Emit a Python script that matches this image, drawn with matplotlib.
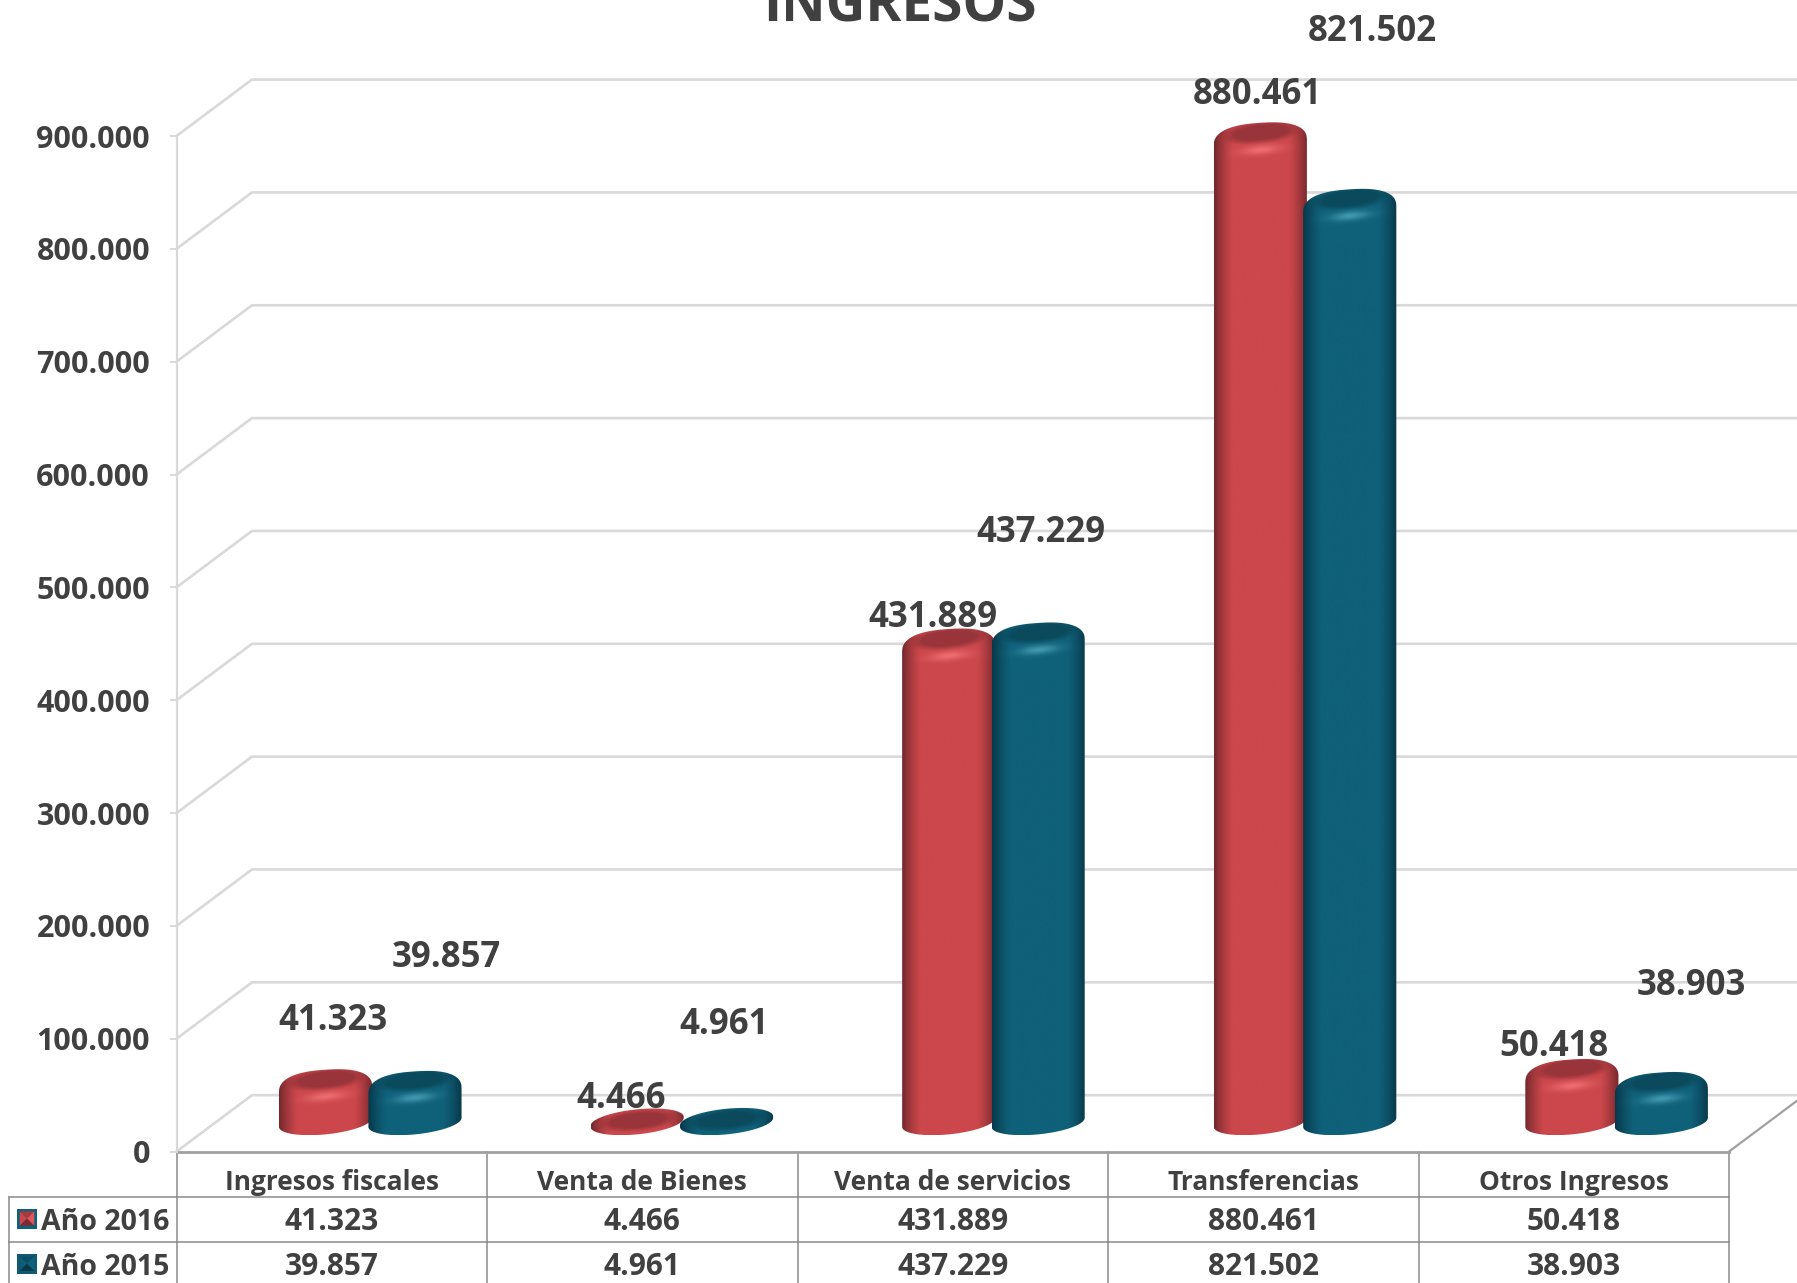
import numpy as np
import matplotlib
matplotlib.use('Agg')
import matplotlib.pyplot as plt
from matplotlib.path import Path
from matplotlib.patches import Polygon, Rectangle

# data
categorias = ['Ingresos fiscales', 'Venta de Bienes', 'Venta de servicios', 'Transferencias', 'Otros Ingresos']
anio_2016 = [41323, 4466, 431889, 880461, 50418]
anio_2015 = [39857, 4961, 437229, 821502, 38903]
ticks = [0, 100000, 200000, 300000, 400000, 500000, 600000, 700000, 800000, 900000]

# layout, pixel offsets of the data labels from the top of each bar
off_2016 = [(7, 56), (-16, 19), (-16, 18), (-3, 35), (-18, 19)]
off_2015 = [(31, 120), (-2, 93), (3, 97), (23, 164), (30, 93)]

TXT = '#404040'
plt.rcParams['font.family'] = ['Open Sans', 'DejaVu Sans']
W, H = 1797, 1283
fig = plt.figure(figsize=(W / 100, H / 100), dpi=100)
ax = fig.add_axes([176.5 / W, 1 - 1151.6 / H, (1729 - 176.5) / W, (1151.6 - 136) / H])

PX = 900000 / (1151.6 - 136)  # value units per pixel
DX, DY = 0.243, 50000         # depth of the floor
BAR_W = 0.3


def val(px):
    return -px * PX


def sc(a, n):
    return np.sign(a) * np.abs(a) ** (2 / n)


def num(v):
    return f'{v:,}'.replace(',', '.')


def draw_bar(xc, v, mid, edge, top, hi):
    base = DY / 2 + 1 * PX
    h = 12 * PX
    s = 4.5 * PX
    y_top = base + max(v - 3500, 900)
    w2 = BAR_W / 2
    t1 = np.linspace(0, np.pi, 100)
    t2 = np.linspace(np.pi, 2 * np.pi, 80)
    if v > 10000:
        # rounded shoulder of the bevel
        yc, ht, st, n = y_top - 10 * PX, 20 * PX, 3 * PX, 2.5
    else:
        yc, ht, st, n = y_top, h, s, 2.0
    x = np.r_[xc + w2 * sc(np.cos(t1), n), xc + w2 * np.cos(t2)]
    y = np.r_[yc + ht * sc(np.sin(t1), n) + st * sc(np.cos(t1), n),
              base + h * np.sin(t2) + s * np.cos(t2)]
    y0, y1 = y.min(), y.max()
    ny = max(int((y1 - y0) / PX), 20)
    xs = np.linspace(xc - w2, xc + w2, 140)
    ys = np.linspace(y0, y1, ny)
    X, Y = np.meshgrid(xs, ys)
    u = (X - xc) / w2
    r = (Y - y_top - s * u) / h
    mid, edge, top, hi = [np.array(matplotlib.colors.to_rgb(c)) for c in (mid, edge, top, hi)]
    f = np.clip((1 - np.abs(u) ** 2.4) * 1.45, 0, 1)[..., None]
    img = edge + (mid - edge) * f
    e = np.sqrt((u / 0.82) ** 2 + ((r - 0.05) / 0.85) ** 2)
    m = np.clip((1.15 - e) / 0.45, 0, 1)[..., None]
    img = img + (top - img) * m
    g = np.exp(-(u / 0.42) ** 2 - ((r + 1.4) / 0.38) ** 2)[..., None] * min(1, v / 30000)
    img = img + (hi - img) * g
    im = ax.imshow(img, extent=[xs[0], xs[-1], y0, y1], origin='lower', aspect='auto',
                   interpolation='bilinear', zorder=3)
    im.set_clip_path(Path(np.c_[x, y]), ax.transData)
    im.set_clip_box(fig.bbox)


# walls and floor
for t in ticks:
    ax.plot([0, DX, 5.4], [t, t + DY, t + DY], color='#d9d9d9', lw=1.9, clip_on=False, zorder=1)
ax.plot([5, 5.4], [0, 0 + (0.4 / DX) * DY], color='#a0a0a0', lw=1.6, clip_on=False, zorder=2)

for i in range(len(categorias)):
    x16 = 0.48 + 1.0035 * i
    x15 = x16 + 0.288
    draw_bar(x16, anio_2016[i], '#cb474c', '#73282c', '#99353a', '#ee6d70')
    draw_bar(x15, anio_2015[i], '#0f6079', '#08384a', '#0b4a5d', '#4097ae')
    ax.annotate(num(anio_2016[i]), (x16, anio_2016[i] + DY / 2), xytext=off_2016[i],
                textcoords='offset pixels', ha='center', va='center',
                fontsize=25, fontweight='bold', color=TXT, zorder=5, annotation_clip=False)
    ax.annotate(num(anio_2015[i]), (x15, anio_2015[i] + DY / 2), xytext=off_2015[i],
                textcoords='offset pixels', ha='center', va='center',
                fontsize=25, fontweight='bold', color=TXT, zorder=5, annotation_clip=False)

# data table
LINE = '#8a8a8a'
row_lines = [val(45.8), val(90.5)]
bottom = val(133)
left = -0.539
for i in range(len(categorias) + 1):
    ax.plot([i, i], [0, bottom], color=LINE, lw=1.1, clip_on=False, zorder=2)
ax.plot([0, 5], [0, 0], color='#a0a0a0', lw=2.0, clip_on=False, zorder=2)
for y in row_lines:
    ax.plot([left, 5], [y, y], color=LINE, lw=1.1, clip_on=False, zorder=2)
ax.plot([left, left], [row_lines[0], bottom], color=LINE, lw=1.1, clip_on=False, zorder=2)

for i, cat in enumerate(categorias):
    ax.text(i + 0.5, val(30.5), cat, ha='center', va='center', fontsize=19, fontweight='bold', color=TXT)
    ax.text(i + 0.5, val(70.5), num(anio_2016[i]), ha='center', va='center',
            fontsize=21.5, fontweight='bold', color=TXT)
    ax.text(i + 0.5, val(115.5), num(anio_2015[i]), ha='center', va='center',
            fontsize=21.5, fontweight='bold', color=TXT)

# legend keys inside the table, small bevelled squares
keys = [(val(67), 'Año 2016', '#0f6079', '#e0575b', '#a83a3e', '#c9474b', '#7d2b2f'),
        (val(112), 'Año 2015', '#0f5a72', '#0f6079', '#0c4f64', '#0f5d75', '#08384a')]
for yc, name, border, light, side, right, dark in keys:
    kx0, kx1 = -0.514, -0.449
    hk = 10 * PX
    ax.add_patch(Rectangle((kx0, yc - hk), kx1 - kx0, 2 * hk, fc=border, ec='none', clip_on=False, zorder=3))
    a0, a1 = kx0 + 0.009, kx1 - 0.009
    b0, b1 = yc - 0.72 * hk, yc + 0.72 * hk
    kc = (a0 + a1) / 2
    ax.add_patch(Polygon([(a0, b1), (a1, b1), (kc, yc)], fc=side, ec='none', clip_on=False, zorder=4))
    ax.add_patch(Polygon([(a0, b0), (a0, b1), (kc, yc)], fc=right, ec='none', clip_on=False, zorder=4))
    ax.add_patch(Polygon([(a1, b0), (a1, b1), (kc, yc)], fc=light, ec='none', clip_on=False, zorder=4))
    ax.add_patch(Polygon([(a0, b0), (a1, b0), (kc, yc)], fc=dark, ec='none', clip_on=False, zorder=4))
    ax.text(-0.435, yc - 3.5 * PX, name, ha='left', va='center', fontsize=20.5, fontweight='bold', color=TXT)

ax.set_xlim(0, 5)
ax.set_ylim(0, 900000)
ax.set_xticks([])
ax.set_yticks(ticks)
ax.set_yticklabels([num(t) for t in ticks], fontsize=22, fontweight='bold', color=TXT)
ax.tick_params(axis='y', length=5, width=1.4, color='#d9d9d9', pad=14)
for s in ['top', 'right', 'bottom']:
    ax.spines[s].set_visible(False)
ax.spines['left'].set_color('#d9d9d9')
ax.spines['left'].set_linewidth(1.6)
ax.patch.set_alpha(0)

fig.text(900 / W, 1 - 22 / H, 'INGRESOS', ha='center', va='baseline', fontsize=39.5, fontweight='bold', color=TXT)

fig.savefig('out.png', dpi=100)
